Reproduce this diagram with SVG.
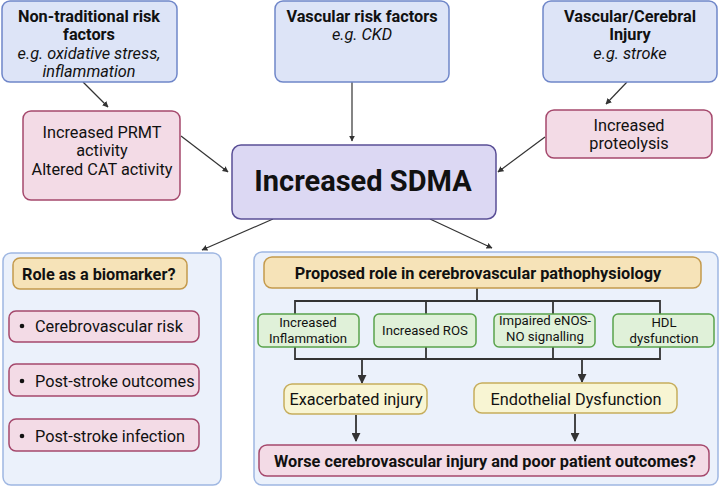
<svg xmlns="http://www.w3.org/2000/svg" width="720" height="486" viewBox="0 0 720 486">
<style>
text{font-family:Roboto,"Liberation Sans",Arial,sans-serif;fill:#111;}
.b{font-weight:bold;}
.i{font-style:italic;}
.blue{fill:#dde4f7;stroke:#6f86c9;stroke-width:1.5;}
.pink{fill:#f3dbe6;stroke:#a5486c;stroke-width:1.5;}
.lav{fill:#dcd8f3;stroke:#5a4f96;stroke-width:1.5;}
.cont{fill:#ebf1fb;stroke:#9fb7e2;stroke-width:1.5;}
.gold{fill:#f6e3b8;stroke:#c49a4c;stroke-width:1.5;}
.green{fill:#e0f1d9;stroke:#5aa34c;stroke-width:1.5;}
.yel{fill:#f8f5d3;stroke:#c6ad5c;stroke-width:1.5;}
.ln{stroke:#333;stroke-width:1.2;fill:none;}
.tr{stroke:#333;stroke-width:1.8;fill:none;}
.g{font-size:13.2px;}
</style>
<defs>
<marker id="ah" viewBox="0 0 10 10" refX="9" refY="5" markerWidth="6" markerHeight="6" orient="auto" markerUnits="userSpaceOnUse">
<path d="M0,0 L10,5 L0,10 z" fill="#333"/>
</marker>
<marker id="ah2" viewBox="0 0 10 10" refX="9" refY="5" markerWidth="9" markerHeight="9" orient="auto" markerUnits="userSpaceOnUse">
<path d="M0,0 L10,5 L0,10 z" fill="#333"/>
</marker>
</defs>
<rect width="720" height="486" fill="#fff"/>

<g id="n-biomarker-panel">
<rect class="cont" x="3" y="253" width="218" height="232" rx="8"/>
</g>
<g id="n-patho-panel">
<rect class="cont" x="254" y="252" width="464" height="233" rx="8"/>
</g>

<g id="connectors">
<line class="ln" x1="83" y1="82" x2="108" y2="107" marker-end="url(#ah)"/>
<line class="ln" x1="181" y1="136" x2="228" y2="172" marker-end="url(#ah)"/>
<line class="ln" x1="352" y1="82" x2="352" y2="141" marker-end="url(#ah)"/>
<line class="ln" x1="627" y1="82" x2="606" y2="104" marker-end="url(#ah)"/>
<line class="ln" x1="545" y1="137" x2="498" y2="172" marker-end="url(#ah)"/>
<line class="ln" x1="273" y1="219" x2="202" y2="250" marker-end="url(#ah)"/>
<line class="ln" x1="430" y1="219" x2="492" y2="248" marker-end="url(#ah)"/>
<path class="tr" d="M477,288 V301 M295,314 V301 H660 V314 M426,301 V314 M553,301 V314"/>
<path class="tr" d="M295,347 V359 H660 V347 M426,347 V359 M553,347 V359"/>
<line class="tr" x1="362" y1="359" x2="362" y2="383" marker-end="url(#ah2)"/>
<line class="tr" x1="582" y1="359" x2="582" y2="382" marker-end="url(#ah2)"/>
<line class="tr" x1="356" y1="415" x2="356" y2="441" marker-end="url(#ah2)"/>
<line class="tr" x1="575" y1="414" x2="575" y2="441" marker-end="url(#ah2)"/>
</g>

<g id="n-nontrad">
<rect class="blue" x="2" y="1" width="175" height="81" rx="8"/>
<text x="89" y="22" font-size="16.3" text-anchor="middle" class="b">Non-traditional risk</text>
<text x="89" y="40" font-size="16.3" text-anchor="middle" class="b">factors</text>
<text x="89" y="59" font-size="16.3" text-anchor="middle" class="i">e.g. oxidative stress,</text>
<text x="89" y="77" font-size="16.3" text-anchor="middle" class="i">inflammation</text>
</g>

<g id="n-vascrisk">
<rect class="blue" x="275" y="1" width="174" height="81" rx="8"/>
<text x="362" y="22" font-size="16.3" text-anchor="middle" class="b">Vascular risk factors</text>
<text x="362" y="40" font-size="16.3" text-anchor="middle" class="i">e.g. CKD</text>
</g>

<g id="n-vascinj">
<rect class="blue" x="543" y="1" width="174" height="81" rx="8"/>
<text x="630" y="22" font-size="16.3" text-anchor="middle" class="b">Vascular/Cerebral</text>
<text x="630" y="40" font-size="16.3" text-anchor="middle" class="b">Injury</text>
<text x="630" y="59" font-size="16.3" text-anchor="middle" class="i">e.g. stroke</text>
</g>

<g id="n-prmt">
<rect class="pink" x="23" y="111" width="157" height="89" rx="8"/>
<text x="102" y="138" font-size="16.3" text-anchor="middle">Increased PRMT</text>
<text x="102" y="156" font-size="16.3" text-anchor="middle">activity</text>
<text x="102" y="175" font-size="16.3" text-anchor="middle">Altered CAT activity</text>
</g>

<g id="n-proteo">
<rect class="pink" x="546" y="110" width="166" height="48" rx="8"/>
<text x="629" y="131" font-size="16.3" text-anchor="middle">Increased</text>
<text x="629" y="149" font-size="16.3" text-anchor="middle">proteolysis</text>
</g>

<g id="n-sdma">
<rect class="lav" x="232" y="145" width="264" height="74" rx="9"/>
<text x="363" y="191" font-size="29" text-anchor="middle" class="b">Increased SDMA</text>
</g>

<g id="n-biomarker">
<rect class="gold" x="13" y="258" width="174" height="31" rx="7"/>
<text x="22" y="280" font-size="16.3" class="b">Role as a biomarker?</text>
</g>
<g id="n-risk">
<rect class="pink" x="9" y="311" width="190" height="31" rx="7"/>
<circle cx="22" cy="326" r="2.3" fill="#111"/>
<text x="35" y="332" font-size="16.3">Cerebrovascular risk</text>
</g>
<g id="n-outcomes">
<rect class="pink" x="9" y="364" width="190" height="32" rx="7"/>
<circle cx="22" cy="381" r="2.3" fill="#111"/>
<text x="35" y="387" font-size="16.3">Post-stroke outcomes</text>
</g>
<g id="n-infection">
<rect class="pink" x="9" y="419" width="190" height="32" rx="7"/>
<circle cx="22" cy="436" r="2.3" fill="#111"/>
<text x="35" y="442" font-size="16.3">Post-stroke infection</text>
</g>

<g id="n-patho">
<rect class="gold" x="264" y="257" width="437" height="31" rx="8"/>
<text x="478" y="279" font-size="16.3" text-anchor="middle" class="b">Proposed role in cerebrovascular pathophysiology</text>
</g>

<g id="n-infl">
<rect class="green" x="258" y="314" width="101" height="33" rx="5"/>
<text x="308" y="327" class="g" text-anchor="middle">Increased</text>
<text x="308" y="342.5" class="g" text-anchor="middle">Inflammation</text>
</g>
<g id="n-ros">
<rect class="green" x="374" y="314" width="102" height="33" rx="5"/>
<text x="425" y="335" class="g" text-anchor="middle">Increased ROS</text>
</g>
<g id="n-enos">
<rect class="green" x="494" y="314" width="101" height="33" rx="5"/>
<text x="545" y="325" class="g" text-anchor="middle">Impaired eNOS-</text>
<text x="545" y="340.5" class="g" text-anchor="middle">NO signalling</text>
</g>
<g id="n-hdl">
<rect class="green" x="613" y="314" width="101" height="33" rx="5"/>
<text x="664" y="327" class="g" text-anchor="middle">HDL</text>
<text x="664" y="342.5" class="g" text-anchor="middle">dysfunction</text>
</g>

<g id="n-exac">
<rect class="yel" x="284" y="384" width="143" height="30" rx="8"/>
<text x="356" y="405" font-size="16.3" text-anchor="middle">Exacerbated injury</text>
</g>
<g id="n-endo">
<rect class="yel" x="474" y="383" width="203" height="30" rx="8"/>
<text x="576" y="405" font-size="16.3" text-anchor="middle">Endothelial Dysfunction</text>
</g>

<g id="n-worse">
<rect class="pink" x="259" y="445" width="450" height="31" rx="8"/>
<text x="485" y="467" font-size="16.3" text-anchor="middle" class="b">Worse cerebrovascular injury and poor patient outcomes?</text>
</g>
</svg>
